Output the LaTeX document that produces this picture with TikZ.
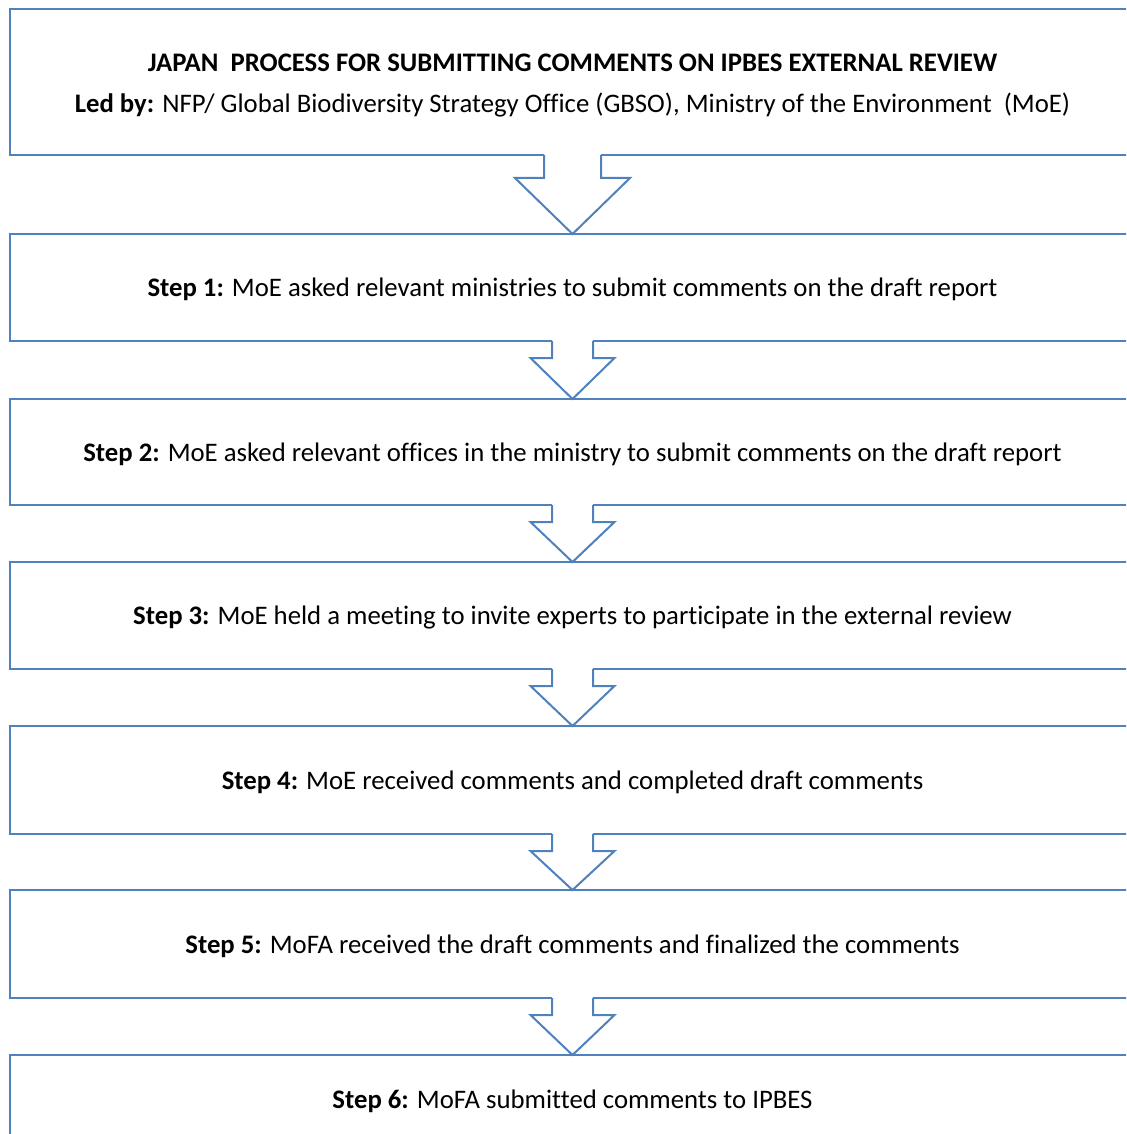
\documentclass[tikz,border=0pt]{standalone}
\usepackage{fontspec}
\setmainfont{Carlito}[Ligatures=NoCommon]
\usetikzlibrary{calc}
\definecolor{ofblue}{RGB}{79,129,189}
\newcommand\blockarr[5]{%
  \fill[white] ($(#1.south)+(-#3,-1.6)$) rectangle ($(#1.south)+(#3,1.6)$);
  \draw[blockarrow] ($(#1.south)+(-#3,0)$) -- ($(#1.south)+(-#3,#5)$) -- ($(#1.south)+(-#4,#5)$) -- (#2.north) -- ($(#1.south)+(#4,#5)$) -- ($(#1.south)+(#3,#5)$) -- ($(#1.south)+(#3,0)$);
}
\begin{document}
\begin{tikzpicture}[x=1pt,y=-1pt,
  stepbox/.style={draw=ofblue,line width=2pt,fill=white,inner sep=0pt,outer sep=0pt,
    minimum width=1125pt},
  steptext/.style={inner sep=0pt,align=center,font=\fontsize{26.75}{41}\selectfont},
  blockarrow/.style={draw=ofblue,line width=2pt,line join=miter}]
\useasboundingbox (0,0) rectangle (1126,1134);
\clip (0,0) rectangle (1126,1134);
\fill[white] (0,0) rectangle (1126,1134);
\node[stepbox,minimum height=146pt] (b0) at (572.5,82) {};
\node[stepbox,minimum height=107pt] (b1) at (572.5,287.5) {};
\node[stepbox,minimum height=106pt] (b2) at (572.5,452) {};
\node[stepbox,minimum height=107pt] (b3) at (572.5,615.5) {};
\node[stepbox,minimum height=108pt] (b4) at (572.5,780) {};
\node[stepbox,minimum height=108pt] (b5) at (572.5,944) {};
\node[stepbox,minimum height=88pt] (b6) at (572.5,1099) {};
\node[steptext] (t0) at ($(b0.center)+(0,4)$)
  {\textbf{JAPAN\ \ PROCESS FOR SUBMITTING COMMENTS ON IPBES EXTERNAL REVIEW}\\
   \textbf{Led by:} NFP/ Global Biodiversity Strategy Office (GBSO), Ministry of the Environment\ \ (MoE)};
\node[steptext] (t1) at ($(b1.center)+(0,2)$)
  {\textbf{Step 1:} MoE asked relevant ministries to submit comments on the draft report};
\node[steptext] (t2) at ($(b2.center)+(0,2)$)
  {\textbf{Step 2:} MoE asked relevant offices in the ministry to submit comments on the draft report};
\node[steptext] (t3) at ($(b3.center)+(0,2)$)
  {\textbf{Step 3:} MoE held a meeting to invite experts to participate in the external review};
\node[steptext] (t4) at ($(b4.center)+(0,2)$)
  {\textbf{Step 4:} MoE received comments and completed draft comments};
\node[steptext] (t5) at ($(b5.center)+(0,2)$)
  {\textbf{Step 5:} MoFA received the draft comments and finalized the comments};
\node[steptext] (t6) at ($(b6.center)+(0,2)$)
  {\textbf{Step 6:} MoFA submitted comments to IPBES};
\blockarr{b0}{b1}{28.5}{57.5}{23}
\blockarr{b1}{b2}{20.5}{42}{17}
\blockarr{b2}{b3}{20.5}{42}{17}
\blockarr{b3}{b4}{20.5}{42}{17}
\blockarr{b4}{b5}{20.5}{42}{17}
\blockarr{b5}{b6}{20.5}{42}{17}
\end{tikzpicture}
\end{document}
